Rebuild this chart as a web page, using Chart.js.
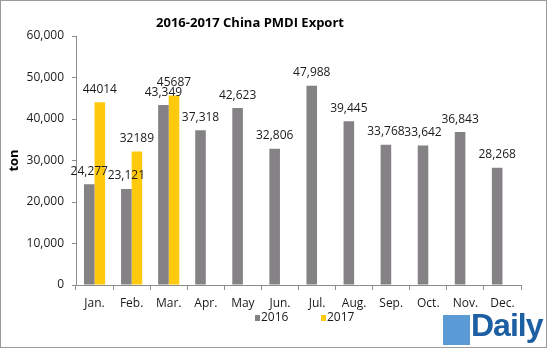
<!DOCTYPE html>
<html>
<head>
<meta charset="utf-8">
<script src="https://cdn.jsdelivr.net/npm/chart.js@4/dist/chart.umd.min.js"></script>
<style>
  html, body { margin: 0; padding: 0; background: #fff; }
  #wrap { position: relative; width: 547px; height: 349px; }
  #logoBox { position: absolute; left: 443px; top: 315px; width: 27px; height: 30px; background: #5b9bd5; }
  #logoText { position: absolute; left: 471px; top: 307px; font: bold 32px "Liberation Sans", sans-serif; color: #1d5fa3; letter-spacing: -1px; }
</style>
</head>
<body>
<div id="wrap">
  <canvas id="c" width="547" height="349"></canvas>
  <div id="logoBox"></div>
  <div id="logoText">Daily</div>
</div>
<script>
const categories = ["Jan.", "Feb.", "Mar.", "Apr.", "May", "Jun.", "Jul.", "Aug.", "Sep.", "Oct.", "Nov.", "Dec."];
const exports2016 = [24277, 23121, 43349, 37318, 42623, 32806, 47988, 39445, 33768, 33642, 36843, 28268];
const exports2017 = [44014, 32189, 45687, null, null, null, null, null, null, null, null, null];
const yTicks = [0, 10000, 20000, 30000, 40000, 50000, 60000];
const titleText = "2016-2017 China PMDI Export";
const yAxisTitle = "ton";

const FONT = '"Open Sans", sans-serif';

const labelPlugin = {
  id: 'labels',
  afterDatasetsDraw(chart) {
    const ctx = chart.ctx;
    ctx.save();
    ctx.font = '12px ' + FONT;
    ctx.fillStyle = '#1a1a1a';
    ctx.textAlign = 'center';
    ctx.textBaseline = 'middle';
    chart.data.datasets.forEach((ds, di) => {
      const meta = chart.getDatasetMeta(di);
      meta.data.forEach((bar, i) => {
        const v = ds.data[i];
        if (v === null || v === undefined) return;
        const txt = di === 0 ? v.toLocaleString('en-US') : String(v);
        ctx.fillText(txt, bar.x, bar.y - 13);
      });
    });
    ctx.restore();
  }
};

const decoPlugin = {
  id: 'deco',
  afterDraw(chart) {
    const ctx = chart.ctx;
    ctx.save();
    // title
    ctx.font = 'bold 13px ' + FONT;
    ctx.fillStyle = '#000';
    ctx.textAlign = 'center';
    ctx.textBaseline = 'middle';
    ctx.fillText(titleText, 250, 23);
    // legend
    const items = [
      { label: chart.data.datasets[0].label, color: chart.data.datasets[0].backgroundColor, x: 255 },
      { label: chart.data.datasets[1].label, color: chart.data.datasets[1].backgroundColor, x: 321 }
    ];
    ctx.font = '12px ' + FONT;
    ctx.textAlign = 'left';
    items.forEach(it => {
      ctx.fillStyle = it.color;
      ctx.fillRect(it.x, 315, 5, 6);
      ctx.fillStyle = '#1a1a1a';
      ctx.fillText(it.label, it.x + 6, 318);
    });
    // frame
    ctx.strokeStyle = '#9a9a9a';
    ctx.lineWidth = 1;
    ctx.strokeRect(0.5, 0.5, 546, 347);
    ctx.restore();
  }
};

new Chart(document.getElementById('c'), {
  type: 'bar',
  data: {
    labels: categories,
    datasets: [
      { label: '2016', data: exports2016, backgroundColor: '#848284', categoryPercentage: 0.57, barPercentage: 1 },
      { label: '2017', data: exports2017, backgroundColor: '#FFC90E', categoryPercentage: 0.57, barPercentage: 1 }
    ]
  },
  options: {
    responsive: false,
    animation: false,
    layout: { padding: { left: 0, top: 36, right: 26, bottom: 0 } },
    plugins: { legend: { display: false }, title: { display: false }, tooltip: { enabled: false } },
    scales: {
      x: {
        afterFit(s) { s.height = 64; },
        grid: { offset: true, drawOnChartArea: false, tickLength: 5, color: '#8c8c8c' },
        border: { color: '#8c8c8c' },
        ticks: { font: { family: FONT, size: 12 }, color: '#1a1a1a', padding: 6, maxRotation: 0, autoSkip: false }
      },
      y: {
        min: 0, max: 60000,
        afterFit(s) { s.width = 76; },
        afterBuildTicks(s) { s.ticks = yTicks.map(v => ({ value: v })); },
        grid: { drawOnChartArea: false, tickLength: 4, color: '#8c8c8c' },
        border: { color: '#8c8c8c' },
        ticks: { font: { family: FONT, size: 12 }, color: '#1a1a1a', padding: 8,
                 callback: v => v.toLocaleString('en-US') },
        title: { display: true, text: yAxisTitle, font: { family: FONT, size: 13, weight: 'bold' }, color: '#000', padding: { top: 6, bottom: 0 } }
      }
    }
  },
  plugins: [labelPlugin, decoPlugin]
});
</script>
</body>
</html>
